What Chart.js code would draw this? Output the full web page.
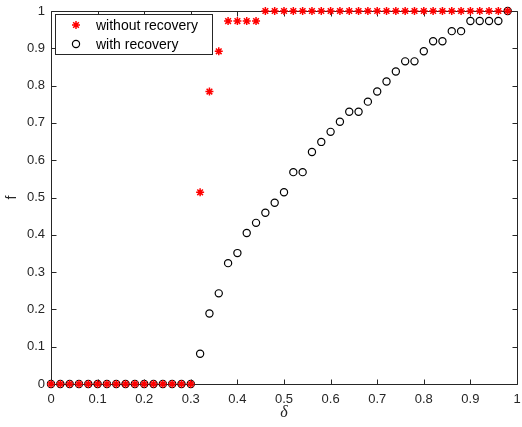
<!DOCTYPE html>
<html>
<head>
<meta charset="utf-8">
<script src="https://cdn.jsdelivr.net/npm/chart.js@4/dist/chart.umd.min.js"></script>
<style>
  html, body { margin: 0; padding: 0; background: #fff; }
  #wrap { width: 522px; height: 427px; }
</style>
</head>
<body>
<div id="wrap"><canvas id="chart" width="522" height="427"></canvas></div>
<script>
// delta values (x axis)
const deltaValues = [
  0, 0.02, 0.04, 0.06, 0.08, 0.1, 0.12, 0.14, 0.16, 0.18,
  0.2, 0.22, 0.24, 0.26, 0.28, 0.3, 0.32, 0.34, 0.36, 0.38,
  0.4, 0.42, 0.44, 0.46, 0.48, 0.5, 0.52, 0.54, 0.56, 0.58,
  0.6, 0.62, 0.64, 0.66, 0.68, 0.7, 0.72, 0.74, 0.76, 0.78,
  0.8, 0.82, 0.84, 0.86, 0.88, 0.9, 0.92, 0.94, 0.96, 0.98,
];

// f without recovery (red asterisks)
const withoutRecovery = [
  0, 0, 0, 0, 0, 0, 0, 0, 0, 0,
  0, 0, 0, 0, 0, 0, 0.514, 0.784, 0.892, 0.973,
  0.973, 0.973, 0.973, 1, 1, 1, 1, 1, 1, 1,
  1, 1, 1, 1, 1, 1, 1, 1, 1, 1,
  1, 1, 1, 1, 1, 1, 1, 1, 1, 1,
];

// f with recovery (black circles)
const withRecovery = [
  0, 0, 0, 0, 0, 0, 0, 0, 0, 0,
  0, 0, 0, 0, 0, 0, 0.081, 0.189, 0.243, 0.324,
  0.351, 0.405, 0.432, 0.459, 0.486, 0.514, 0.568, 0.568, 0.622, 0.649,
  0.676, 0.703, 0.73, 0.73, 0.757, 0.784, 0.811, 0.838, 0.865, 0.865,
  0.892, 0.919, 0.919, 0.946, 0.946, 0.973, 0.973, 0.973, 0.973, 1,
];

const seriesLabels = ["without recovery", "with recovery"];
const xTitle = "δ";
const yTitle = "f";

const axisColor = "#262626";
const tickFont = { family: "Arial, 'Liberation Sans', Helvetica, sans-serif", size: 13 };

function toPoints(ys) {
  return deltaValues.map((x, i) => ({ x: x, y: ys[i] }));
}

function fmt(v) {
  return String(Math.round(v * 10) / 10);
}

// MATLAB-style box with inward ticks on all four sides
const boxAxes = {
  id: "boxAxes",
  beforeDatasetsDraw(chart) {
    const { ctx, chartArea: a, scales } = chart;
    const len = 5;
    ctx.save();
    ctx.strokeStyle = axisColor;
    ctx.lineWidth = 1;
    ctx.beginPath();
    const L = Math.round(a.left) + 0.5;
    const R = Math.round(a.right) + 0.5;
    const T = Math.round(a.top) + 0.5;
    const B = Math.round(a.bottom) + 0.5;
    ctx.rect(L, T, R - L, B - T);
    scales.x.ticks.forEach((t) => {
      const px = Math.round(scales.x.getPixelForValue(t.value)) + 0.5;
      ctx.moveTo(px, B); ctx.lineTo(px, B - len);
      ctx.moveTo(px, T); ctx.lineTo(px, T + len);
    });
    scales.y.ticks.forEach((t) => {
      const py = Math.round(scales.y.getPixelForValue(t.value)) + 0.5;
      ctx.moveTo(L, py); ctx.lineTo(L + len, py);
      ctx.moveTo(R, py); ctx.lineTo(R - len, py);
    });
    ctx.stroke();
    ctx.restore();
  },
  afterDraw(chart) {
    // legend box in the upper left corner
    const { ctx } = chart;
    const x0 = 55.5, y0 = 14.5, w = 157, h = 40;
    ctx.save();
    ctx.fillStyle = "#fff";
    ctx.fillRect(x0, y0, w, h);
    ctx.strokeStyle = axisColor;
    ctx.lineWidth = 1;
    ctx.strokeRect(x0, y0, w, h);
    const rows = [25, 44];
    const mx = 76;
    chart.data.datasets.forEach((ds, i) => {
      ctx.strokeStyle = ds.borderColor;
      ctx.lineWidth = ds.borderWidth;
      ctx.beginPath();
      if (ds.pointStyle === "circle") {
        ctx.arc(mx, rows[i], ds.pointRadius, 0, Math.PI * 2);
      } else {
        const r = ds.pointRadius;
        for (let k = 0; k < 4; k++) {
          const ang = (k * Math.PI) / 4;
          ctx.moveTo(mx - r * Math.cos(ang), rows[i] - r * Math.sin(ang));
          ctx.lineTo(mx + r * Math.cos(ang), rows[i] + r * Math.sin(ang));
        }
      }
      ctx.stroke();
      ctx.fillStyle = "#000";
      ctx.font = "14px Arial, 'Liberation Sans', Helvetica, sans-serif";
      ctx.textBaseline = "middle";
      ctx.fillText(ds.label, 96, rows[i] + 1);
    });
    ctx.restore();
  },
};

const ctx = document.getElementById("chart").getContext("2d");
new Chart(ctx, {
  type: "scatter",
  data: {
    datasets: [
      {
        label: seriesLabels[0],
        data: toPoints(withoutRecovery),
        pointStyle: "star",
        pointRadius: 4,
        pointHoverRadius: 4,
        borderColor: "#ff0000",
        backgroundColor: "#ff0000",
        borderWidth: 1.5,
        clip: false,
      },
      {
        label: seriesLabels[1],
        data: toPoints(withRecovery),
        pointStyle: "circle",
        pointRadius: 3.6,
        pointHoverRadius: 3.6,
        borderColor: "#000000",
        backgroundColor: "rgba(0,0,0,0)",
        borderWidth: 1.2,
        clip: false,
      },
    ],
  },
  options: {
    responsive: false,
    animation: false,
    layout: { autoPadding: false, padding: { top: 11, right: 5, left: 0, bottom: 0 } },
    plugins: {
      legend: { display: false },
      tooltip: { enabled: false },
    },
    scales: {
      x: {
        type: "linear",
        min: 0,
        max: 1,
        afterFit: (s) => {
          s.height = 43;
          s.paddingLeft = 0;
          s.paddingRight = 0;
        },
        border: { display: false },
        grid: { display: false, drawTicks: false },
        ticks: {
          stepSize: 0.1,
          padding: 8,
          color: axisColor,
          font: tickFont,
          maxRotation: 0,
          callback: (v) => fmt(v),
        },
        title: {
          display: true,
          text: xTitle,
          color: axisColor,
          font: { family: "'Liberation Serif', 'DejaVu Serif', serif", size: 16, style: "italic" },
          padding: { top: 0, bottom: 5 },
        },
      },
      y: {
        type: "linear",
        min: 0,
        max: 1,
        afterFit: (s) => {
          s.width = 51;
          s.paddingTop = 0;
          s.paddingBottom = 0;
        },
        border: { display: false },
        grid: { display: false, drawTicks: false },
        ticks: {
          stepSize: 0.1,
          padding: 6,
          color: axisColor,
          font: tickFont,
          callback: (v) => fmt(v),
        },
        title: {
          display: true,
          text: yTitle,
          color: axisColor,
          font: { family: "Arial, 'Liberation Sans', Helvetica, sans-serif", size: 14 },
          padding: { top: 4, bottom: 0 },
        },
      },
    },
  },
  plugins: [boxAxes],
});
</script>
</body>
</html>
